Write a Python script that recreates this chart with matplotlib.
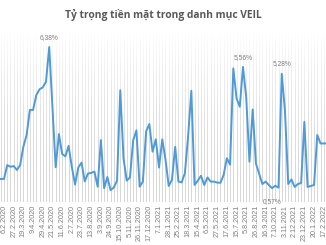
import matplotlib
matplotlib.use('Agg')
import matplotlib.pyplot as plt
import numpy as np

# Tỷ trọng tiền mặt (%) theo tuần, hai điểm đầu nằm trước nhãn 6.2.2020
truoc_nhan = [0.95, 0.95]
ty_trong = [0.95, 1.52, 1.45, 1.48, 1.32, 1.52, 2.28, 2.76, 3.79, 3.79,
            4.40, 4.64, 4.72, 4.95, 6.38, 3.90, 1.43, 2.80, 1.98, 1.88,
            2.31, 1.45, 0.72, 1.42, 1.62, 0.85, 1.17, 1.20, 1.25, 0.63,
            2.55, 0.57, 1.03, 0.49, 0.60, 0.88, 4.60, 1.80, 0.88, 1.01,
            2.54, 2.95, 0.63, 0.84, 2.90, 3.21, 2.07, 2.58, 1.42, 2.58,
            1.75, 0.66, 0.91, 2.27, 0.84, 0.81, 1.18, 2.69, 4.58, 0.70,
            0.88, 1.08, 0.70, 1.01, 0.84, 0.84, 0.80, 0.79, 1.11, 1.80,
            1.54, 5.50, 4.27, 3.92, 5.56, 4.30, 1.66, 3.81, 1.59, 1.16,
            0.74, 0.84, 0.70, 0.57, 0.67, 0.59, 5.28, 3.74, 0.74, 0.93,
            0.62, 0.74, 0.78, 3.30, 0.62, 0.66, 0.70, 2.76, 2.41, 2.41,
            2.41]
nhan_ngay = ['6.2.2020', '27.2.2020', '19.3.2020', '9.4.2020', '29.4.2020',
             '21.5.2020', '11.6.2020', '2.7.2020', '23.7.2020', '13.8.2020',
             '3.9.2020', '24.9.2020', '15.10.2020', '5.11.2020', '26.11.2020',
             '17.12.2020', '7.1.2021', '28.1.2021', '25.2.2021', '18.3.2021',
             '15.4.2021', '6.5.2021', '27.5.2021', '17.6.2021', '15.7.2021',
             '5.8.2021', '26.8.2021', '16.9.2021', '7.10.2021', '3.11.2021',
             '2.12.2021', '23.12.2021', '20.1.2022', '17.2.2022']
nhan_so = {14: '6,38%', 74: '5,56%', 86: '5,28%', 83: '0,57%'}

y = np.array(truoc_nhan + ty_trong)
x = np.arange(len(y)) - len(truoc_nhan)

fig = plt.figure(figsize=(3.26, 2.45), dpi=100)
ax = fig.add_axes([0, 0.1755, 1, 0.694])
ax.set_xlim(-1.24, 99.7)
ax.set_ylim(0, 7)

# nền sọc xám mờ dần lên trên
ax.vlines(x, 0, 7, color='#d0d0d0', lw=0.6, zorder=1)
grad = np.zeros((100, 2, 4))
grad[..., :3] = 1.0
grad[..., 3] = np.linspace(1, 0, 100)[:, None] ** 1.8
ax.imshow(grad, extent=[-1.24, 99.7, 0, 7], aspect='auto', zorder=2,
          origin='upper', interpolation='bilinear')

ax.plot(x, y, color='#4f9ad8', lw=1.4, zorder=3, solid_joinstyle='round')

for k, txt in nhan_so.items():
    v = ty_trong[k]
    dy = -10 if k == 83 else 7
    ax.annotate(txt, (k, v), xytext=(0, dy), textcoords='offset points',
                ha='center', va='center', fontsize=4.8, color='#7f7f7f',
                family='Liberation Sans', zorder=4)

ax.set_xticks(range(0, 3 * len(nhan_ngay), 3))
ax.set_xticklabels(nhan_ngay, rotation=90, fontsize=5.2, color='#7f7f7f',
                   family='Liberation Sans')
ax.tick_params(axis='x', length=0, pad=2)
ax.set_yticks([])
for s in ax.spines.values():
    s.set_visible(False)

fig.text(0.5, 0.94, 'Tỷ trọng tiền mặt trong danh mục VEIL', ha='center',
         va='center', fontsize=7.4, fontweight='bold', color='#595959',
         family='Open Sans')

fig.savefig('out.png', dpi=100)
